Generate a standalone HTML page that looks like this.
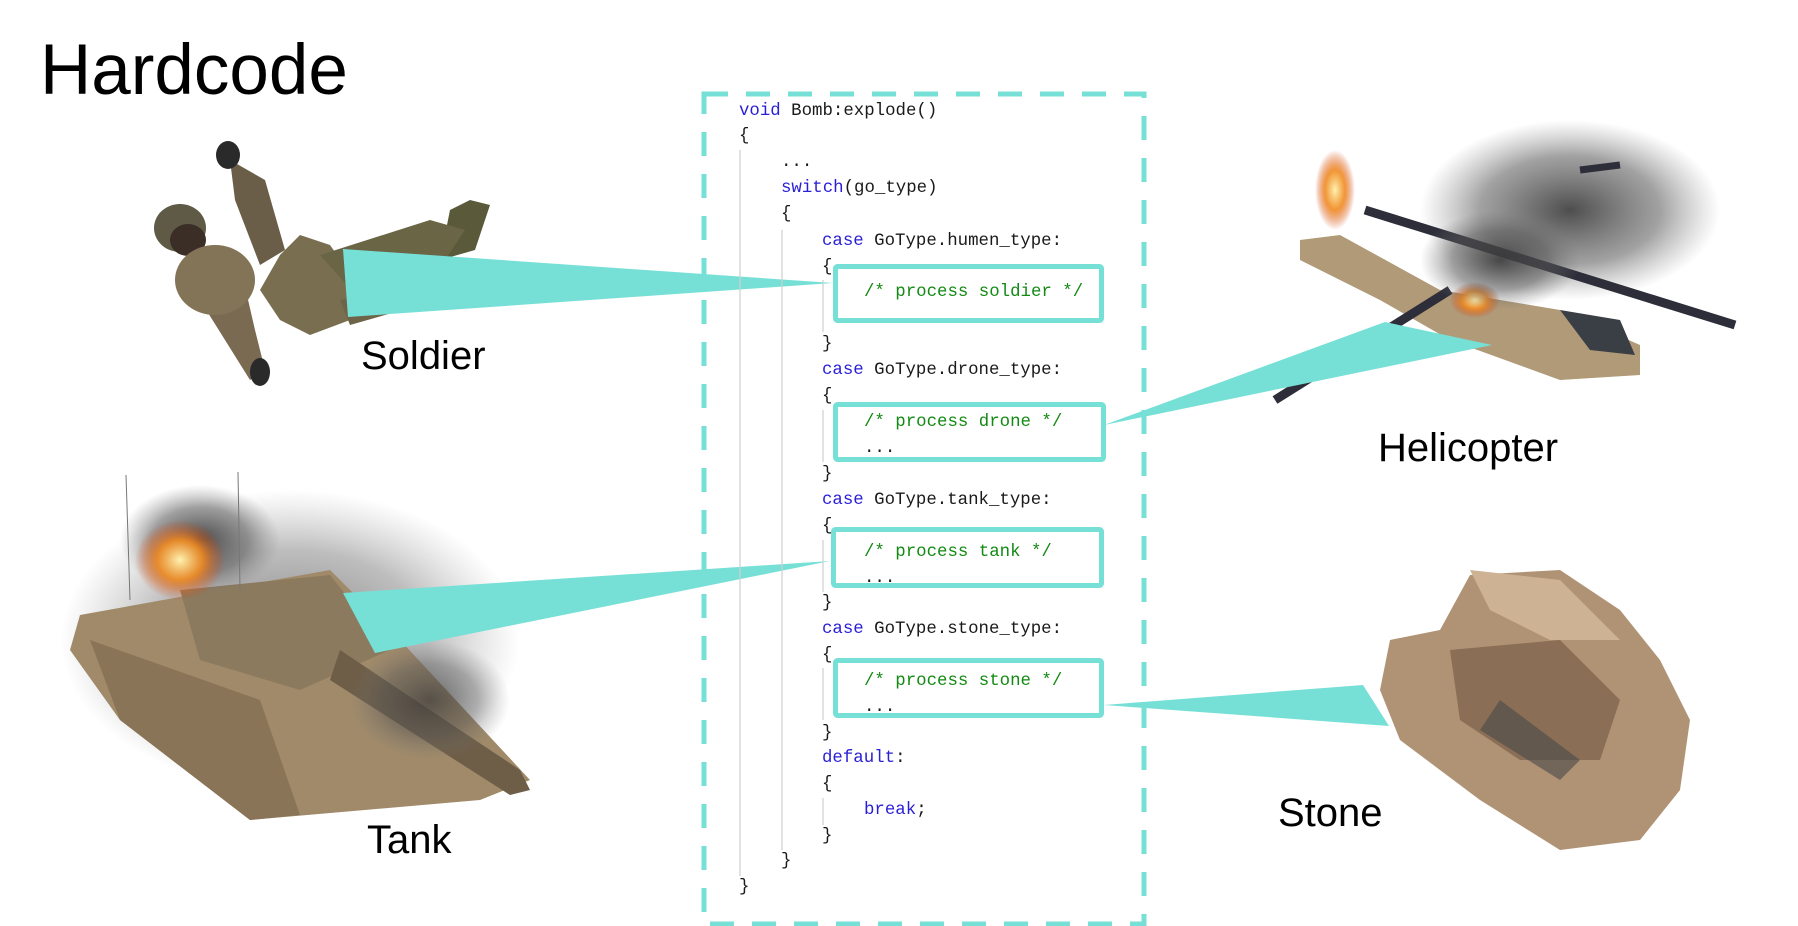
<!DOCTYPE html>
<html><head><meta charset="utf-8"><style>
html,body{margin:0;padding:0;background:#fff;}
body{width:1798px;height:926px;position:relative;overflow:hidden;font-family:"Liberation Sans",sans-serif;}
.t{position:absolute;color:#000;white-space:nowrap;}
.c{position:absolute;font-family:"Liberation Mono",monospace;font-size:17.4px;line-height:26px;height:26px;white-space:pre;color:#1a1a1a;}
.k{color:#2a1fd6;}
.g{color:#138a13;}
svg{position:absolute;left:0;top:0;}
</style></head><body>
<svg width="1798" height="926" viewBox="0 0 1798 926">
  <defs>
    <radialGradient id="smoke" cx="50%" cy="50%" r="50%">
      <stop offset="0%" stop-color="#3a3a3a" stop-opacity="0.9"/>
      <stop offset="60%" stop-color="#555" stop-opacity="0.55"/>
      <stop offset="100%" stop-color="#777" stop-opacity="0"/>
    </radialGradient>
    <radialGradient id="fire" cx="50%" cy="50%" r="50%">
      <stop offset="0%" stop-color="#fff2b0"/>
      <stop offset="50%" stop-color="#f08a20" stop-opacity="0.9"/>
      <stop offset="100%" stop-color="#d04010" stop-opacity="0"/>
    </radialGradient>
  </defs>
  <!-- Soldier -->
  <g>
    <polygon points="450,210 470,200 490,205 475,250 440,260" fill="#5a5a3a"/>
    <polygon points="280,255 300,235 330,245 355,280 350,320 310,335 280,320 260,290" fill="#7a6e50"/>
    <polygon points="320,255 430,220 465,230 445,260 360,300" fill="#6a6545"/>
    <polygon points="340,300 460,270 490,275 495,290 420,305 350,325" fill="#6e6448"/>
    <ellipse cx="180" cy="228" rx="26" ry="24" fill="#5f5a45"/>
    <ellipse cx="188" cy="240" rx="18" ry="16" fill="#3a2e26"/>
    <polygon points="230,160 265,180 285,250 260,265 235,200" fill="#6a5e48"/>
    <ellipse cx="228" cy="155" rx="12" ry="14" fill="#2a2a2a"/>
    <polygon points="205,260 240,265 255,330 265,370 250,380 225,340 200,300" fill="#7a6a52"/>
    <ellipse cx="260" cy="372" rx="10" ry="14" fill="#2a2a2a"/>
    <ellipse cx="215" cy="280" rx="40" ry="35" fill="#837458"/>
  </g>
  <!-- Tank -->
  <g>
    <ellipse cx="290" cy="640" rx="230" ry="150" fill="url(#smoke)" opacity="0.7"/>
    <polygon points="80,615 330,570 400,640 530,780 480,800 250,820 120,720 70,650" fill="#a08a6a"/>
    <polygon points="180,590 330,575 390,650 300,690 200,660" fill="#8c7a5e"/>
    <polygon points="340,650 520,770 530,790 510,795 330,680" fill="#6e5e48"/>
    <polygon points="90,640 260,700 300,815 250,820 120,720" fill="#8a7458"/>
    <ellipse cx="200" cy="540" rx="80" ry="55" fill="url(#smoke)"/>
    <ellipse cx="180" cy="560" rx="45" ry="40" fill="url(#fire)"/>
    <ellipse cx="430" cy="700" rx="80" ry="60" fill="url(#smoke)" opacity="0.8"/>
    <line x1="126" y1="475" x2="130" y2="600" stroke="#777" stroke-width="1"/>
    <line x1="238" y1="472" x2="240" y2="590" stroke="#777" stroke-width="1"/>
  </g>
  <!-- Helicopter -->
  <g>
    <ellipse cx="1570" cy="210" rx="150" ry="90" fill="url(#smoke)"/>
    <polygon points="1300,240 1340,235 1440,290 1560,310 1640,345 1640,375 1560,380 1450,340 1380,300 1300,260" fill="#b09a78"/>
    <polygon points="1560,310 1620,320 1635,355 1590,350" fill="#3a3f45"/>
    <line x1="1275" y1="400" x2="1450" y2="290" stroke="#2e2e3a" stroke-width="9"/>
    <line x1="1365" y1="210" x2="1735" y2="325" stroke="#2e2e3a" stroke-width="9"/>
    <line x1="1580" y1="170" x2="1620" y2="165" stroke="#2e2e3a" stroke-width="7"/>
    <ellipse cx="1335" cy="190" rx="20" ry="40" fill="url(#fire)"/>
    <ellipse cx="1475" cy="300" rx="25" ry="18" fill="url(#fire)"/>
    <ellipse cx="1500" cy="260" rx="80" ry="50" fill="url(#smoke)"/>
  </g>
  <!-- Stone -->
  <g>
    <polygon points="1470,575 1560,570 1620,610 1660,660 1690,720 1680,790 1640,840 1560,850 1480,800 1400,740 1380,690 1390,640 1440,630" fill="#b09274"/>
    <polygon points="1450,650 1560,640 1620,700 1600,760 1520,760 1460,720" fill="#8a6e55"/>
    <polygon points="1470,570 1560,580 1620,640 1550,640 1490,610" fill="#cdb294"/>
    <polygon points="1500,700 1580,760 1560,780 1480,730" fill="#4a4a4a" opacity="0.6"/>
  </g>
  <!-- Wedges -->
  <polygon points="343,249 833,283 348,317" fill="#76e0d6"/>
  <polygon points="343,593 830,561 375,653" fill="#76e0d6"/>
  <polygon points="1104,425 1385,322 1492,345" fill="#76e0d6"/>
  <polygon points="1104,705 1363,685 1389,726" fill="#76e0d6"/>
  <!-- Dashed box -->
  <rect x="704" y="94" width="440" height="830" fill="none" stroke="#76e0d6" stroke-width="5" stroke-dasharray="24 18"/>
  <!-- guide lines -->
  <g stroke="#cfcfcf" stroke-width="1.2">
    <line x1="740" y1="150" x2="740" y2="876"/>
    <line x1="782" y1="230" x2="782" y2="850"/>
    <line x1="823" y1="280" x2="823" y2="332"/>
    <line x1="823" y1="410" x2="823" y2="462"/>
    <line x1="823" y1="540" x2="823" y2="592"/>
    <line x1="823" y1="668" x2="823" y2="720"/>
    <line x1="823" y1="798" x2="823" y2="825"/>
  </g>
</svg>

<div class="t" style="left:40px;top:30px;font-size:71px;line-height:82px;">Hardcode</div>
<div class="t" style="left:361px;top:333px;font-size:40px;line-height:46px;">Soldier</div>
<div class="t" style="left:1378px;top:425px;font-size:40px;line-height:46px;">Helicopter</div>
<div class="t" style="left:367px;top:817px;font-size:40px;line-height:46px;">Tank</div>
<div class="t" style="left:1278px;top:790px;font-size:40px;line-height:46px;">Stone</div>

<div class="c" style="left:739px;top:99px;"><span class="k">void</span> Bomb:explode()</div>
<div class="c" style="left:739px;top:124px;">{</div>
<div class="c" style="left:781px;top:150px;">...</div>
<div class="c" style="left:781px;top:176px;"><span class="k">switch</span>(go_type)</div>
<div class="c" style="left:781px;top:202px;">{</div>
<div class="c" style="left:822px;top:229px;"><span class="k">case</span> GoType.humen_type:</div>
<div class="c" style="left:822px;top:255px;">{</div>
<div class="c" style="left:864px;top:280px;"><span class="g">/* process soldier */</span></div>
<div class="c" style="left:864px;top:306px;">...</div>
<div class="c" style="left:822px;top:332px;">}</div>
<div class="c" style="left:822px;top:358px;"><span class="k">case</span> GoType.drone_type:</div>
<div class="c" style="left:822px;top:384px;">{</div>
<div class="c" style="left:864px;top:410px;"><span class="g">/* process drone */</span></div>
<div class="c" style="left:864px;top:436px;">...</div>
<div class="c" style="left:822px;top:462px;">}</div>
<div class="c" style="left:822px;top:488px;"><span class="k">case</span> GoType.tank_type:</div>
<div class="c" style="left:822px;top:514px;">{</div>
<div class="c" style="left:864px;top:540px;"><span class="g">/* process tank */</span></div>
<div class="c" style="left:864px;top:566px;">...</div>
<div class="c" style="left:822px;top:591px;">}</div>
<div class="c" style="left:822px;top:617px;"><span class="k">case</span> GoType.stone_type:</div>
<div class="c" style="left:822px;top:643px;">{</div>
<div class="c" style="left:864px;top:669px;"><span class="g">/* process stone */</span></div>
<div class="c" style="left:864px;top:695px;">...</div>
<div class="c" style="left:822px;top:721px;">}</div>
<div class="c" style="left:822px;top:746px;"><span class="k">default</span>:</div>
<div class="c" style="left:822px;top:772px;">{</div>
<div class="c" style="left:864px;top:798px;"><span class="k">break</span>;</div>
<div class="c" style="left:822px;top:824px;">}</div>
<div class="c" style="left:781px;top:849px;">}</div>
<div class="c" style="left:739px;top:875px;">}</div>

<svg width="1798" height="926" viewBox="0 0 1798 926" style="pointer-events:none">
  <g fill="none" stroke="#76e0d6" stroke-width="5">
    <rect x="835.5" y="266.5" width="266" height="54" rx="2"/>
    <rect x="835.5" y="404.5" width="268" height="55" rx="2"/>
    <rect x="833.5" y="529.5" width="268" height="56" rx="2"/>
    <rect x="835.5" y="660.5" width="266" height="55" rx="2"/>
  </g>
</svg>
</body></html>
